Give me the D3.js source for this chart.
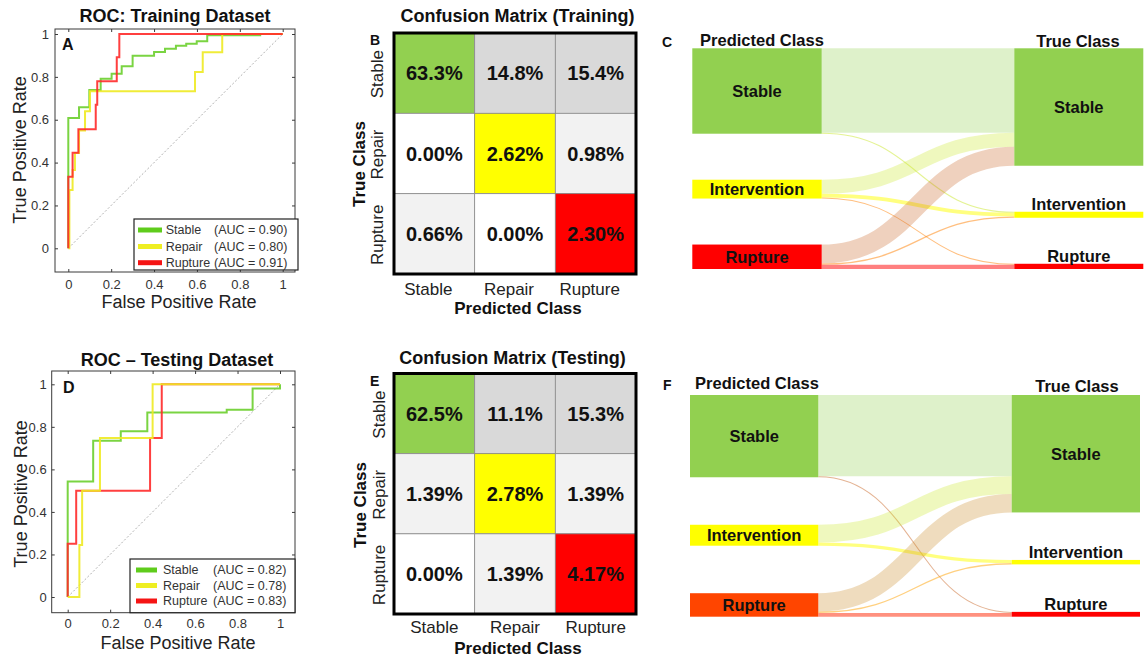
<!DOCTYPE html>
<html>
<head>
<meta charset="utf-8">
<script src="https://cdn.jsdelivr.net/npm/d3@7"></script>
<style>
  body { margin: 0; background: #fff; }
  svg { display: block; font-family: "Liberation Sans", Arial, sans-serif; }
</style>
</head>
<body>
<svg id="fig" width="1147" height="658"></svg>
<script>
// ---------- data ----------
const classNames = ["Stable", "Repair", "Rupture"];
const aucTrain = [0.90, 0.80, 0.91];
const aucTest = [0.82, 0.78, 0.83];
const rateTicks = [0, 0.2, 0.4, 0.6, 0.8, 1];

// ROC vertices as [false positive rate, true positive rate]
const rocTrainStable = [[0,0],[0,0.608],[0.05,0.608],[0.05,0.658],[0.098,0.658],[0.098,0.739],[0.151,0.739],[0.151,0.791],[0.202,0.791],[0.202,0.815],[0.249,0.815],[0.249,0.849],[0.30,0.849],[0.30,0.899],[0.40,0.899],[0.40,0.916],[0.451,0.916],[0.451,0.931],[0.502,0.931],[0.502,0.945],[0.55,0.945],[0.55,0.955],[0.599,0.955],[0.599,0.966],[0.648,0.966],[0.648,0.994],[0.895,0.994],[0.895,1],[1,1]];
const rocTrainRepair = [[0,0],[0.005,0],[0.005,0.272],[0.02,0.272],[0.02,0.365],[0.031,0.365],[0.031,0.445],[0.05,0.445],[0.05,0.55],[0.078,0.55],[0.078,0.639],[0.101,0.639],[0.101,0.733],[0.591,0.733],[0.591,0.823],[0.627,0.823],[0.627,0.915],[0.718,0.915],[0.718,1],[1,1]];
const rocTrainRupture = [[0,0],[0,0.334],[0.02,0.334],[0.02,0.446],[0.047,0.446],[0.047,0.556],[0.128,0.556],[0.128,0.67],[0.135,0.67],[0.135,0.779],[0.226,0.779],[0.226,0.891],[0.238,0.891],[0.238,1],[1,1]];

const rocTestStable = [[0,0],[0,0.543],[0.12,0.543],[0.12,0.735],[0.25,0.735],[0.25,0.779],[0.375,0.779],[0.375,0.868],[0.749,0.868],[0.749,0.88],[0.871,0.88],[0.871,0.98],[1,0.98],[1,1]];
const rocTestRepair = [[0,0],[0.055,0],[0.055,0.245],[0.068,0.245],[0.068,0.5],[0.152,0.5],[0.152,0.747],[0.40,0.747],[0.40,1],[1,1]];
const rocTestRupture = [[0,0],[0,0.25],[0.04,0.25],[0.04,0.5],[0.388,0.5],[0.388,0.747],[0.443,0.747],[0.443,1],[1,1]];

// confusion matrices in percent, rows = true class, columns = predicted class
const cmTrain = [[63.3, 14.8, 15.4], [0.00, 2.62, 0.98], [0.66, 0.00, 2.30]];
const cmTest = [[62.5, 11.1, 15.3], [1.39, 2.78, 1.39], [0.00, 1.39, 4.17]];

// sankey flows, predicted class -> true class
const sankeyNodes = ["Stable", "Intervention", "Rupture"];
const flowsTrain = [
  { source: "Stable", target: "Stable", value: 64.5 },
  { source: "Stable", target: "Intervention", value: 0.8 },
  { source: "Intervention", target: "Stable", value: 10.8 },
  { source: "Intervention", target: "Intervention", value: 2.8 },
  { source: "Intervention", target: "Rupture", value: 0.8 },
  { source: "Rupture", target: "Stable", value: 14.5 },
  { source: "Rupture", target: "Intervention", value: 1.0 },
  { source: "Rupture", target: "Rupture", value: 3.2 }
];
const flowsTest = [
  { source: "Stable", target: "Stable", value: 64.0 },
  { source: "Stable", target: "Rupture", value: 0.8 },
  { source: "Intervention", target: "Stable", value: 14.0 },
  { source: "Intervention", target: "Intervention", value: 2.5 },
  { source: "Rupture", target: "Stable", value: 14.5 },
  { source: "Rupture", target: "Intervention", value: 1.0 },
  { source: "Rupture", target: "Rupture", value: 3.0 }
];

// ---------- styles ----------
const curveColors = ["#6ccf2e", "#eeea22", "#ff2a2a"];
const legendColors = ["#5fcc1c", "#eeee22", "#f51414"];
const classFill = ["#92d050", "#ffff00", "#ff0000"];

const svg = d3.select("#fig");

// ---------- ROC panels ----------
function drawRoc(cfg) {
  const g = svg.append("g");
  const b = cfg.box;
  const x = d3.scaleLinear().domain([0, 1]).range(cfg.xr);
  const y = d3.scaleLinear().domain([0, 1]).range(cfg.yr);

  g.append("rect").attr("x", b.x0).attr("y", b.y0)
    .attr("width", b.x1 - b.x0).attr("height", b.y1 - b.y0)
    .attr("fill", "#fff").attr("stroke", "#3a3a3a").attr("stroke-width", 1);

  const style = sel => {
    sel.select(".domain").remove();
    sel.selectAll(".tick line").attr("stroke", "#3a3a3a");
    sel.selectAll(".tick text").attr("fill", "#333").attr("font-size", 13)
      .attr("font-family", '"Liberation Sans", Arial, sans-serif');
  };
  const fmt = d3.format("~g");
  g.append("g").attr("transform", `translate(0,${b.y1})`)
    .call(d3.axisBottom(x).tickValues(rateTicks).tickFormat(fmt).tickSize(-3).tickPadding(cfg.padX)).call(style);
  g.append("g").attr("transform", `translate(0,${b.y0})`)
    .call(d3.axisTop(x).tickValues(rateTicks).tickFormat("").tickSize(-3)).call(style);
  g.append("g").attr("transform", `translate(${b.x0},0)`)
    .call(d3.axisLeft(y).tickValues(rateTicks).tickFormat(fmt).tickSize(-3).tickPadding(cfg.padY)).call(style);
  g.append("g").attr("transform", `translate(${b.x1},0)`)
    .call(d3.axisRight(y).tickValues(rateTicks).tickFormat("").tickSize(-3)).call(style);

  // chance diagonal
  g.append("path").attr("d", d3.line().x(d => x(d[0])).y(d => y(d[1]))([[0, 0], [1, 1]]))
    .attr("stroke", "#b0b0b0").attr("stroke-width", 1).attr("stroke-dasharray", "2,2").attr("fill", "none");

  const line = d3.line().x(d => x(d[0])).y(d => y(d[1]));
  cfg.order.forEach(i => {
    g.append("path").attr("d", line(cfg.curves[i]))
      .attr("fill", "none").attr("stroke", curveColors[i]).attr("stroke-width", 2)
      .attr("stroke-opacity", 0.9).attr("stroke-linejoin", "miter");
  });

  // legend
  const L = cfg.legend;
  g.append("rect").attr("x", L.x0).attr("y", L.y0).attr("width", L.x1 - L.x0).attr("height", L.y1 - L.y0)
    .attr("fill", "#fff").attr("stroke", "#222").attr("stroke-width", 1.2);
  classNames.forEach((name, i) => {
    const ry = L.rows[i];
    g.append("line").attr("x1", L.sx0).attr("x2", L.sx1).attr("y1", ry).attr("y2", ry)
      .attr("stroke", legendColors[i]).attr("stroke-width", 5);
    g.append("text").attr("x", L.tx).attr("y", ry + 4.4).attr("font-size", 12.5).attr("fill", "#333").text(name);
    g.append("text").attr("x", L.px).attr("y", ry + 4.4).attr("font-size", 12.5).attr("fill", "#333")
      .text(`(AUC = ${cfg.auc[i].toFixed(2)})`);
  });

  g.append("text").attr("x", cfg.title.x).attr("y", cfg.title.y).attr("text-anchor", "middle")
    .attr("font-size", 18).attr("font-weight", "bold").attr("fill", "#111").text(cfg.title.text);
  g.append("text").attr("x", cfg.letter.x).attr("y", cfg.letter.y)
    .attr("font-size", 16).attr("font-weight", "bold").attr("fill", "#111").text(cfg.letter.text);
  g.append("text").attr("transform", `translate(${cfg.ylab.x},${cfg.ylab.y}) rotate(-90)`)
    .attr("text-anchor", "middle").attr("font-size", 18).attr("fill", "#222").text("True Positive Rate");
  g.append("text").attr("x", cfg.xlab.x).attr("y", cfg.xlab.y).attr("text-anchor", "middle")
    .attr("font-size", 18).attr("fill", "#222").text("False Positive Rate");
}

drawRoc({
  box: { x0: 55, x1: 295, y0: 29, y1: 272 }, xr: [68.3, 282.7], yr: [248.3, 34],
  padX: 8, padY: 6,
  curves: [rocTrainStable, rocTrainRepair, rocTrainRupture], order: [0, 1, 2], auc: aucTrain,
  legend: { x0: 134, x1: 298, y0: 219, y1: 270, rows: [230, 246.5, 262.7], sx0: 138, sx1: 162, tx: 165.7, px: 214 },
  title: { text: "ROC: Training Dataset", x: 175, y: 22 },
  letter: { text: "A", x: 62, y: 50 },
  ylab: { x: 26, y: 150 }, xlab: { x: 179, y: 308 }
});
drawRoc({
  box: { x0: 51.7, x1: 295, y0: 371, y1: 612.7 }, xr: [67.7, 280], yr: [597, 384.3],
  padX: 6, padY: 5,
  curves: [rocTestStable, rocTestRepair, rocTestRupture], order: [0, 2, 1], auc: aucTest,
  legend: { x0: 130, x1: 295, y0: 559, y1: 612.7, rows: [570, 585.5, 601], sx0: 136, sx1: 157, tx: 163, px: 213 },
  title: { text: "ROC \u2013 Testing Dataset", x: 177, y: 366 },
  letter: { text: "D", x: 63, y: 393 },
  ylab: { x: 26.5, y: 494 }, xlab: { x: 178, y: 649 }
});

// ---------- confusion matrices ----------
const pct = v => (v >= 10 ? v.toFixed(1) : v.toFixed(2)) + "%";
function cellFill(v, i, j) {
  if (i === j) return classFill[i];
  if (v === 0) return "#ffffff";
  return v < 5 ? "#f2f2f2" : "#d9d9d9";
}

function drawMatrix(cfg) {
  const g = svg.append("g");
  const xb = d3.scaleBand().domain([0, 1, 2]).range([cfg.x0, cfg.x1]);
  const yb = d3.scaleBand().domain([0, 1, 2]).range([cfg.y0, cfg.y1]);
  const cells = cfg.values.flatMap((row, i) => row.map((v, j) => ({ i, j, v })));

  g.selectAll("rect.cell").data(cells).join("rect").attr("class", "cell")
    .attr("x", d => xb(d.j)).attr("y", d => yb(d.i))
    .attr("width", xb.bandwidth()).attr("height", yb.bandwidth())
    .attr("fill", d => cellFill(d.v, d.i, d.j)).attr("stroke", "#8a8a8a").attr("stroke-width", 0.8);
  g.selectAll("text.val").data(cells).join("text").attr("class", "val")
    .attr("x", d => xb(d.j) + xb.bandwidth() / 2).attr("y", d => yb(d.i) + yb.bandwidth() / 2)
    .attr("dy", "0.36em").attr("text-anchor", "middle")
    .attr("font-size", 20).attr("font-weight", "bold").attr("fill", "#111").text(d => pct(d.v));
  g.append("rect").attr("x", cfg.x0).attr("y", cfg.y0)
    .attr("width", cfg.x1 - cfg.x0).attr("height", cfg.y1 - cfg.y0)
    .attr("fill", "none").attr("stroke", "#000").attr("stroke-width", 3);

  classNames.forEach((name, k) => {
    g.append("text").attr("x", xb(k) + xb.bandwidth() / 2 + cfg.colDx).attr("y", cfg.colY)
      .attr("text-anchor", "middle").attr("font-size", 17).attr("fill", "#222").text(name);
    g.append("text").attr("transform", `translate(${cfg.rowX},${yb(k) + yb.bandwidth() / 2 + 1}) rotate(-90)`)
      .attr("text-anchor", "middle").attr("font-size", 17).attr("fill", "#222").text(name);
  });
  g.append("text").attr("x", cfg.title.x).attr("y", cfg.title.y).attr("text-anchor", "middle")
    .attr("font-size", 18).attr("font-weight", "bold").attr("fill", "#111").text(cfg.title.text);
  g.append("text").attr("x", cfg.predX).attr("y", cfg.predY).attr("text-anchor", "middle")
    .attr("font-size", 17).attr("font-weight", "bold").attr("fill", "#111").text("Predicted Class");
  g.append("text").attr("transform", `translate(${cfg.trueX},${cfg.trueY}) rotate(-90)`)
    .attr("text-anchor", "middle").attr("font-size", 17).attr("font-weight", "bold").attr("fill", "#111").text("True Class");
  g.append("text").attr("x", cfg.letter.x).attr("y", cfg.letter.y)
    .attr("font-size", 14).attr("font-weight", "bold").attr("fill", "#111").text(cfg.letter.text);
}

drawMatrix({
  values: cmTrain, x0: 394, x1: 636, y0: 33, y1: 274,
  colY: 295, colDx: -6, rowX: 383, predX: 518, predY: 314, trueX: 365, trueY: 164,
  title: { text: "Confusion Matrix (Training)", x: 517.5, y: 22 },
  letter: { text: "B", x: 370, y: 45 }
});
drawMatrix({
  values: cmTest, x0: 394, x1: 636, y0: 373.5, y1: 614,
  colY: 633, colDx: 0, rowX: 385, predX: 518, predY: 654, trueX: 366, trueY: 505,
  title: { text: "Confusion Matrix (Testing)", x: 512.5, y: 364 },
  letter: { text: "E", x: 370, y: 386 }
});

// ---------- sankey diagrams ----------
function drawSankey(cfg) {
  const g = svg.append("g");
  const flows = cfg.flows.map(f => ({ ...f }));
  const idx = name => sankeyNodes.indexOf(name);
  const H = cfg.y1 - cfg.y0;
  const n = sankeyNodes.length;

  const totals = side => sankeyNodes.map(nm => d3.sum(flows.filter(f => f[side] === nm), f => f.value));
  const leftVal = totals("source"), rightVal = totals("target");
  const k = Math.min((H - cfg.pad * (n - 1)) / d3.sum(leftVal), (H - cfg.pad * (n - 1)) / d3.sum(rightVal));

  const column = (vals, xs, colors) => {
    const gap = (H - d3.sum(vals) * k) / (n - 1);
    let yy = cfg.y0;
    return vals.map((v, i) => {
      const node = { name: sankeyNodes[i], x0: xs[0], x1: xs[1], y0: yy, y1: yy + v * k, color: colors[i] };
      yy = node.y1 + gap;
      return node;
    });
  };
  const left = column(leftVal, cfg.left, cfg.leftColors);
  const right = column(rightVal, cfg.right, cfg.rightColors);

  // stack link ends on each node, ordered by the node at the other end
  left.forEach((nd, i) => {
    let yy = nd.y0;
    flows.filter(f => idx(f.source) === i).sort((a, b) => idx(a.target) - idx(b.target))
      .forEach(f => { f.w = f.value * k; f.sy = yy + f.w / 2; yy += f.w; });
  });
  right.forEach((nd, i) => {
    let yy = nd.y0;
    flows.filter(f => idx(f.target) === i).sort((a, b) => idx(a.source) - idx(b.source))
      .forEach(f => { f.ty = yy + f.value * k / 2; yy += f.value * k; });
  });

  const link = d3.linkHorizontal().x(d => d[0]).y(d => d[1]);
  g.selectAll("path.flow").data(flows).join("path").attr("class", "flow")
    .attr("d", f => link({ source: [cfg.left[1], f.sy], target: [cfg.right[0], f.ty] }))
    .attr("fill", "none")
    .attr("stroke", f => d3.interpolateRgb(left[idx(f.source)].color, right[idx(f.target)].color)(0.5))
    .attr("stroke-opacity", f => (f.w < 6 ? 0.5 : 0.3))
    .attr("stroke-width", f => Math.max(f.w, 1));

  const nodes = left.concat(right);
  g.selectAll("rect.node").data(nodes).join("rect").attr("class", "node")
    .attr("x", d => d.x0).attr("y", d => d.y0)
    .attr("width", d => d.x1 - d.x0).attr("height", d => d.y1 - d.y0).attr("fill", d => d.color);
  g.selectAll("text.node").data(nodes).join("text").attr("class", "node")
    .attr("x", d => (d.x0 + d.x1) / 2)
    .attr("y", d => (d.y1 - d.y0 < 15 ? d.y0 - 2 : (d.y0 + d.y1) / 2))
    .attr("dy", d => (d.y1 - d.y0 < 15 ? 0 : "0.36em"))
    .attr("text-anchor", "middle").attr("font-size", 16.5).attr("font-weight", "bold").attr("fill", "#111")
    .text(d => d.name);

  g.append("text").attr("x", cfg.predTitle[0]).attr("y", cfg.predTitle[1]).attr("text-anchor", "middle")
    .attr("font-size", 16.5).attr("font-weight", "bold").attr("fill", "#111").text("Predicted Class");
  g.append("text").attr("x", cfg.trueTitle[0]).attr("y", cfg.trueTitle[1]).attr("text-anchor", "middle")
    .attr("font-size", 16.5).attr("font-weight", "bold").attr("fill", "#111").text("True Class");
  g.append("text").attr("x", cfg.letter.x).attr("y", cfg.letter.y)
    .attr("font-size", 14).attr("font-weight", "bold").attr("fill", "#111").text(cfg.letter.text);
}

drawSankey({
  flows: flowsTrain, left: [692.3, 821.7], right: [1014.3, 1143.3], y0: 48.3, y1: 269, pad: 46,
  leftColors: ["#92d050", "#ffff00", "#ff0000"], rightColors: ["#92d050", "#ffff00", "#ff0000"],
  predTitle: [762, 46], trueTitle: [1078, 46.5], letter: { text: "C", x: 662, y: 47 }
});
drawSankey({
  flows: flowsTest, left: [690, 818.3], right: [1011.7, 1140], y0: 395, y1: 616.7, pad: 47.5,
  leftColors: ["#92d050", "#ffff00", "#ff4500"], rightColors: ["#92d050", "#ffff00", "#ff0000"],
  predTitle: [757, 389], trueTitle: [1077, 392], letter: { text: "F", x: 663, y: 390 }
});
</script>
</body>
</html>
